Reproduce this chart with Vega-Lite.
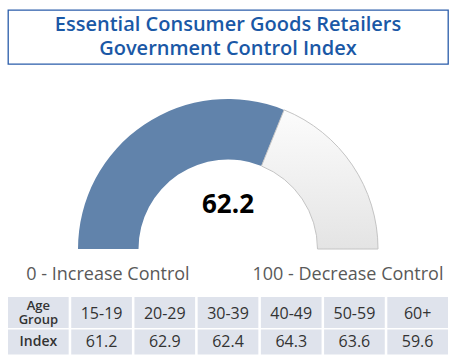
{
  "$schema": "https://vega.github.io/schema/vega-lite/v6.json",
  "padding": {"top": 9, "left": 7, "right": 0, "bottom": 0},
  "spacing": 0,
  "background": "white",
  "config": {"view": {"stroke": null}, "font": "Open Sans"},
  "datasets": {
    "overall": [
      {"part": "Index", "share": 62.2},
      {"part": "Remainder", "share": 37.8}
    ],
    "ages": [
      {"Age Group": "15-19", "Index": 61.2},
      {"Age Group": "20-29", "Index": 62.9},
      {"Age Group": "30-39", "Index": 62.4},
      {"Age Group": "40-49", "Index": 64.3},
      {"Age Group": "50-59", "Index": 63.6},
      {"Age Group": "60+", "Index": 59.6}
    ]
  },
  "vconcat": [
    {
      "width": 440,
      "height": 54,
      "view": {"stroke": "#2a5caa", "strokeWidth": 1.3},
      "data": {"values": [{"title": "Essential Consumer Goods Retailers\nGovernment Control Index"}]},
      "mark": {"type": "text", "lineBreak": "\n", "fontSize": 20, "fontWeight": 600, "font": "Open Sans", "color": "#1a58a6", "lineHeight": 24, "baseline": "middle", "align": "center", "dy": -12},
      "encoding": {"text": {"field": "title", "type": "nominal"}}
    },
    {
      "width": 440,
      "height": 232,
      "data": {"name": "overall"},
      "layer": [
        {
          "mark": {"type": "arc", "radius": 150, "radius2": 89.5, "strokeWidth": 1},
          "encoding": {
            "x": {"datum": 0, "type": "quantitative", "scale": {"domain": [-1.4667, 1.4667], "nice": false, "zero": false}, "axis": null},
            "y": {"datum": 0, "type": "quantitative", "scale": {"domain": [-0.32, 1.2267], "nice": false, "zero": false}, "axis": null},
            "theta": {"field": "share", "type": "quantitative", "stack": true, "scale": {"domain": [0, 100], "range": [-1.5708, 1.5708]}},
            "order": {"field": "part", "type": "nominal"},
            "fill": {
              "condition": {"test": "datum.part === 'Index'", "value": "#6183ab"},
              "value": {"gradient": "linear", "x1": 0, "y1": 0, "x2": 0, "y2": 1, "stops": [{"offset": 0, "color": "#fcfcfc"}, {"offset": 1, "color": "#e4e4e4"}]}
            },
            "stroke": {
              "condition": {"test": "datum.part === 'Index'", "value": null},
              "value": "#c4c4c4"
            }
          }
        },
        {
          "transform": [{"filter": "datum.part === 'Index'"}],
          "mark": {"type": "text", "fontSize": 26, "fontWeight": "bold", "color": "#000000", "baseline": "middle", "font": "Open Sans"},
          "encoding": {
            "x": {"datum": 0, "type": "quantitative"},
            "y": {"datum": 0.293, "type": "quantitative"},
            "text": {"field": "share", "type": "quantitative", "format": ".1f"}
          }
        },
        {
          "transform": [{"filter": "datum.part === 'Index'"}],
          "mark": {"type": "text", "fontSize": 18, "color": "#595959", "baseline": "middle", "font": "Open Sans"},
          "encoding": {
            "x": {"datum": -0.8, "type": "quantitative"},
            "y": {"datum": -0.173, "type": "quantitative"},
            "text": {"value": "0 - Increase Control"}
          }
        },
        {
          "transform": [{"filter": "datum.part === 'Index'"}],
          "mark": {"type": "text", "fontSize": 18, "color": "#595959", "baseline": "middle", "font": "Open Sans"},
          "encoding": {
            "x": {"datum": 0.8, "type": "quantitative"},
            "y": {"datum": -0.173, "type": "quantitative"},
            "text": {"value": "100 - Decrease Control"}
          }
        }
      ]
    },
    {
      "spacing": 1.5,
      "vconcat": [
        {
          "width": 440,
          "height": 31,
          "layer": [
            {
              "data": {"name": "ages"},
              "encoding": {
                "x": {"field": "Age Group", "type": "nominal", "sort": null,
                  "scale": {"domain": ["", "15-19", "20-29", "30-39", "40-49", "50-59", "60+"], "paddingInner": 0.04, "paddingOuter": 0}, "axis": null}
              },
              "layer": [
                {"mark": {"type": "rect", "fill": "#dfe3ec"}},
                {"mark": {"type": "text", "fontSize": 16, "color": "#333333", "font": "Open Sans", "baseline": "middle", "dy": 1},
                  "encoding": {"text": {"field": "Age Group", "type": "nominal"}}}
              ]
            },
            {
              "data": {"values": [{"Age Group": "", "header": "Age Group"}]},
              "encoding": {"x": {"field": "Age Group", "type": "nominal"}},
              "layer": [
                {"mark": {"type": "rect", "fill": "#dfe3ec"}},
                {"mark": {"type": "text", "fontSize": 13, "fontWeight": 600, "color": "#333333", "font": "Open Sans", "baseline": "middle", "lineBreak": " ", "lineHeight": 13.5, "dy": -6.5},
                  "encoding": {"text": {"field": "header", "type": "nominal"}}}
              ]
            }
          ]
        },
        {
          "width": 440,
          "height": 25,
          "layer": [
            {
              "data": {"name": "ages"},
              "encoding": {
                "x": {"field": "Age Group", "type": "nominal", "sort": null,
                  "scale": {"domain": ["", "15-19", "20-29", "30-39", "40-49", "50-59", "60+"], "paddingInner": 0.04, "paddingOuter": 0}, "axis": null}
              },
              "layer": [
                {"mark": {"type": "rect", "fill": "#dfe3ec"}},
                {"mark": {"type": "text", "fontSize": 16, "color": "#333333", "font": "Open Sans", "baseline": "middle"},
                  "encoding": {"text": {"field": "Index", "type": "quantitative", "format": ".1f"}}}
              ]
            },
            {
              "data": {"values": [{"Age Group": "", "header": "Index"}]},
              "encoding": {"x": {"field": "Age Group", "type": "nominal"}},
              "layer": [
                {"mark": {"type": "rect", "fill": "#dfe3ec"}},
                {"mark": {"type": "text", "fontSize": 14, "fontWeight": 600, "color": "#333333", "font": "Open Sans", "baseline": "middle"},
                  "encoding": {"text": {"field": "header", "type": "nominal"}}}
              ]
            }
          ]
        }
      ]
    }
  ]
}
